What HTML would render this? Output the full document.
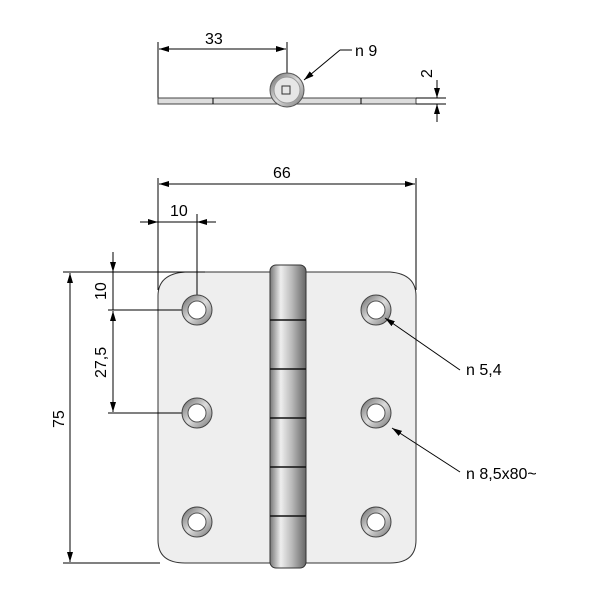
<!DOCTYPE html>
<html><head><style>html,body{margin:0;padding:0;background:#fff}svg{display:block}</style></head>
<body>
<svg width="600" height="600" viewBox="0 0 600 600" xmlns="http://www.w3.org/2000/svg" font-family="Liberation Sans, sans-serif" font-size="16">
<defs>
<marker id="a" viewBox="0 0 10 6" refX="10" refY="3" markerWidth="10" markerHeight="6" orient="auto-start-reverse" markerUnits="userSpaceOnUse"><path d="M0,0L10,3L0,6z" fill="#000"/></marker>
<linearGradient id="k" x1="0" x2="1"><stop offset="0" stop-color="#777"/><stop offset="0.3" stop-color="#eee"/><stop offset="0.6" stop-color="#bbb"/><stop offset="1" stop-color="#666"/></linearGradient>
<linearGradient id="r" x1="0" y1="0" x2="1" y2="1"><stop offset="0" stop-color="#666"/><stop offset="0.5" stop-color="#ddd"/><stop offset="1" stop-color="#777"/></linearGradient>
</defs>
<g stroke="#000" stroke-width="1" fill="none">
<!-- top view -->
<line x1="158" y1="42" x2="158" y2="98"/><line x1="287" y1="42" x2="287" y2="74"/>
<line x1="159" y1="49" x2="286" y2="49" marker-start="url(#a)" marker-end="url(#a)"/>
<rect x="158" y="98" width="258" height="6" fill="#ddd" stroke="#444"/>
<line x1="213" y1="98" x2="213" y2="104"/><line x1="361" y1="98" x2="361" y2="104"/>
<circle cx="287" cy="90" r="17" fill="url(#r)" stroke="#555"/>
<circle cx="287" cy="90" r="13" fill="#e6e6e6" stroke="#999"/>
<rect x="282" y="86" width="8" height="8" stroke="#333"/>
<line x1="340" y1="50" x2="352" y2="50"/><line x1="340" y1="50" x2="304" y2="80" marker-end="url(#a)"/>
<line x1="416" y1="98" x2="446" y2="98"/><line x1="416" y1="104" x2="446" y2="104"/>
<line x1="437" y1="80" x2="437" y2="98" marker-end="url(#a)"/><line x1="437" y1="122" x2="437" y2="104" marker-end="url(#a)"/>
<!-- 66 -->
<line x1="158" y1="178" x2="158" y2="290"/><line x1="416" y1="178" x2="416" y2="290"/>
<line x1="159" y1="184" x2="415" y2="184" marker-start="url(#a)" marker-end="url(#a)"/>
<!-- 10 horizontal -->
<line x1="140" y1="222" x2="158" y2="222" marker-end="url(#a)"/><line x1="216" y1="222" x2="197" y2="222" marker-end="url(#a)"/><line x1="158" y1="222" x2="197" y2="222"/>
<!-- left verticals -->
<line x1="63" y1="563" x2="160" y2="563"/>
<line x1="113" y1="252" x2="113" y2="272" marker-end="url(#a)"/><line x1="113" y1="272" x2="113" y2="310"/><line x1="113" y1="311" x2="113" y2="412" marker-start="url(#a)" marker-end="url(#a)"/>
<line x1="70" y1="273" x2="70" y2="562" marker-start="url(#a)" marker-end="url(#a)"/>
<!-- plate -->
<path d="M158,296 Q158,274 185,272 L270,272 L270,563 L185,563 Q158,563 158,540 Z" fill="#eeeeee" stroke="#333"/>
<path d="M306,272 L390,272 Q416,274 416,296 L416,540 Q416,563 390,563 L306,563 Z" fill="#eeeeee" stroke="#333"/>
<rect x="270" y="265" width="36" height="303" rx="6" fill="url(#k)" stroke="#333"/>
<g stroke="#111" stroke-width="1.5"><line x1="270" y1="320" x2="306" y2="320"/><line x1="270" y1="369" x2="306" y2="369"/><line x1="270" y1="418" x2="306" y2="418"/><line x1="270" y1="467" x2="306" y2="467"/><line x1="270" y1="516" x2="306" y2="516"/></g>
<!-- extension lines over plate -->
<line x1="63" y1="272" x2="205" y2="272"/>
<line x1="108" y1="310" x2="182" y2="310"/><line x1="108" y1="413" x2="182" y2="413"/>
<line x1="197" y1="214" x2="197" y2="295"/>
<line x1="158" y1="272" x2="158" y2="290"/>
<g fill="url(#r)" stroke="#444">
<circle cx="197" cy="310" r="15"/><circle cx="197" cy="413" r="15"/><circle cx="197" cy="522" r="15"/>
<circle cx="376" cy="310" r="15"/><circle cx="376" cy="413" r="15"/><circle cx="376" cy="522" r="15"/>
</g>
<g fill="#fff" stroke="#555">
<circle cx="197" cy="310" r="9"/><circle cx="197" cy="413" r="9"/><circle cx="197" cy="522" r="9"/>
<circle cx="376" cy="310" r="9"/><circle cx="376" cy="413" r="9"/><circle cx="376" cy="522" r="9"/>
</g>
<line x1="460" y1="370" x2="385" y2="318" marker-end="url(#a)"/>
<line x1="460" y1="472" x2="392" y2="428" marker-end="url(#a)"/>
</g>
<g fill="#000">
<text x="205" y="44">33</text>
<text x="355" y="56">n 9</text>
<text transform="translate(432,78) rotate(-90)">2</text>
<text x="273" y="178">66</text>
<text x="170" y="216">10</text>
<text transform="translate(106,300) rotate(-90)">10</text>
<text transform="translate(106,378) rotate(-90)">27,5</text>
<text transform="translate(64,428) rotate(-90)">75</text>
<text x="466" y="375">n 5,4</text>
<text x="466" y="479">n 8,5x80~</text>
</g>
</svg>
</body></html>
